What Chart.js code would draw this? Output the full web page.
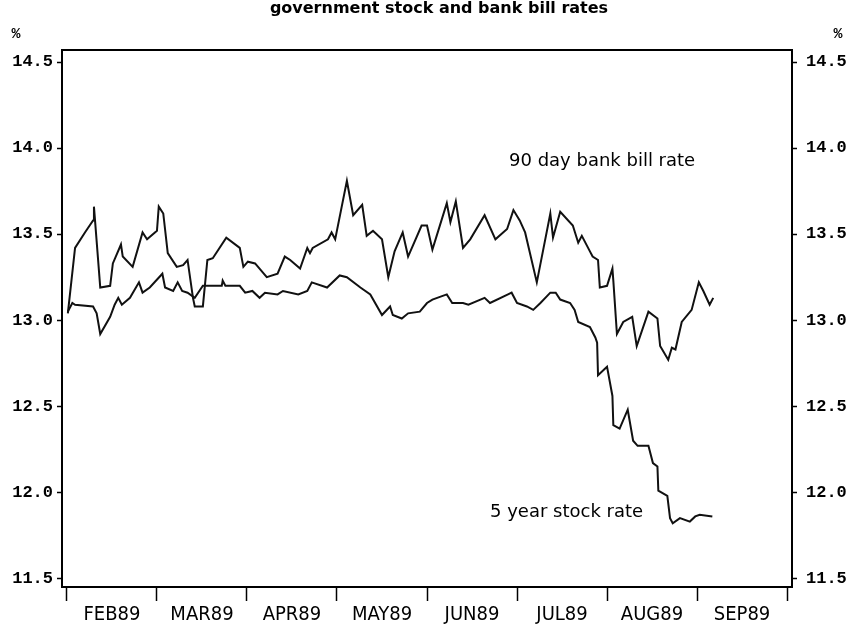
<!DOCTYPE html>
<html>
<head>
<meta charset="utf-8">
<script src="https://cdn.jsdelivr.net/npm/chart.js@4.4.0/dist/chart.umd.min.js"></script>
<style>
  html, body { margin: 0; padding: 0; background: #fff; }
  #rates { display: block; }
</style>
</head>
<body>
<canvas id="rates" width="847" height="628"></canvas>
<script>
// month labels sit between the month-boundary ticks (0 = 1 Feb 1989)
var monthLabels = ['FEB89', 'MAR89', 'APR89', 'MAY89', 'JUN89', 'JUL89', 'AUG89', 'SEP89'];
var yTicks = [11.5, 12.0, 12.5, 13.0, 13.5, 14.0, 14.5];

// 90 day bank bill rate, x in months since 1 Feb
var bankMonths = [0.01, 0.09, 0.20, 0.29, 0.30, 0.37, 0.48, 0.51, 0.60, 0.62, 0.73, 0.84, 0.89, 1.00, 1.02,
    1.07, 1.12, 1.22, 1.29, 1.34, 1.40, 1.42, 1.51, 1.56, 1.62, 1.77, 1.92, 1.96, 2.01, 2.09, 2.22, 2.34,
    2.42, 2.48, 2.59, 2.67, 2.70, 2.73, 2.90, 2.94, 2.98, 3.11, 3.18, 3.28, 3.33, 3.40, 3.50, 3.57, 3.64,
    3.73, 3.79, 3.94, 4.00, 4.06, 4.22, 4.26, 4.32, 4.40, 4.48, 4.64, 4.76, 4.89, 4.96, 5.03, 5.09, 5.22,
    5.37, 5.40, 5.48, 5.62, 5.68, 5.72, 5.81, 5.84, 5.90, 5.92, 6.00, 6.06, 6.07, 6.11, 6.18, 6.28, 6.33,
    6.46, 6.56, 6.59, 6.68, 6.72, 6.76, 6.83, 6.94, 7.02, 7.07, 7.14, 7.18];
var bankRate = [13.04, 13.42, 13.51, 13.58, 13.66, 13.19, 13.20, 13.33, 13.44, 13.37, 13.31, 13.51, 13.47, 13.52, 13.66,
    13.62, 13.39, 13.31, 13.32, 13.35, 13.13, 13.08, 13.08, 13.35, 13.36, 13.48, 13.42, 13.31, 13.34, 13.33, 13.25, 13.27,
    13.37, 13.35, 13.30, 13.42, 13.39, 13.42, 13.47, 13.51, 13.47, 13.81, 13.61, 13.67, 13.49, 13.52, 13.47, 13.25, 13.40,
    13.51, 13.37, 13.55, 13.55, 13.41, 13.68, 13.57, 13.69, 13.42, 13.47, 13.61, 13.47, 13.53, 13.64, 13.58, 13.51, 13.22,
    13.62, 13.48, 13.63, 13.55, 13.45, 13.49, 13.40, 13.37, 13.35, 13.19, 13.20, 13.30, 13.23, 12.92, 12.99, 13.02, 12.85,
    13.05, 13.01, 12.85, 12.77, 12.84, 12.83, 12.99, 13.06, 13.22, 13.17, 13.09, 13.13];

// 5 year government stock rate
var stockMonths = [0.01, 0.06, 0.09, 0.29, 0.33, 0.37, 0.48, 0.53, 0.57, 0.61, 0.70, 0.80, 0.84, 0.92, 1.06,
    1.09, 1.18, 1.23, 1.28, 1.34, 1.42, 1.51, 1.72, 1.73, 1.76, 1.92, 1.98, 2.06, 2.14, 2.20, 2.34, 2.40,
    2.57, 2.67, 2.72, 2.89, 3.03, 3.11, 3.26, 3.37, 3.50, 3.59, 3.62, 3.72, 3.79, 3.92, 4.00, 4.06, 4.22,
    4.28, 4.40, 4.46, 4.64, 4.70, 4.90, 4.94, 5.00, 5.11, 5.18, 5.26, 5.37, 5.43, 5.48, 5.59, 5.64, 5.68,
    5.81, 5.87, 5.89, 5.90, 6.00, 6.06, 6.07, 6.14, 6.23, 6.29, 6.34, 6.46, 6.51, 6.56, 6.57, 6.67, 6.70,
    6.73, 6.81, 6.92, 6.98, 7.03, 7.17];
var stockRate = [13.05, 13.10, 13.09, 13.08, 13.04, 12.92, 13.02, 13.09, 13.13, 13.09, 13.13, 13.22, 13.16, 13.19, 13.27,
    13.19, 13.17, 13.22, 13.17, 13.16, 13.13, 13.20, 13.20, 13.23, 13.20, 13.20, 13.16, 13.17, 13.13, 13.16, 13.15, 13.17,
    13.15, 13.17, 13.22, 13.19, 13.26, 13.25, 13.19, 13.15, 13.03, 13.08, 13.03, 13.01, 13.04, 13.05, 13.10, 13.12, 13.15,
    13.10, 13.10, 13.09, 13.13, 13.10, 13.15, 13.16, 13.10, 13.08, 13.06, 13.10, 13.16, 13.16, 13.12, 13.10, 13.06, 12.99,
    12.96, 12.90, 12.87, 12.68, 12.73, 12.56, 12.39, 12.37, 12.48, 12.30, 12.27, 12.27, 12.17, 12.15, 12.01, 11.98, 11.85,
    11.82, 11.85, 11.83, 11.86, 11.87, 11.86];

function toPoints(xs, ys) {
    return xs.map(function(x, i) { return { x: x, y: ys[i] }; });
}

var frameAndText = {
    id: 'frameAndText',
    afterDraw: function(chart) {
        var c = chart.ctx, a = chart.chartArea;
        c.save();
        c.strokeStyle = '#000';
        c.lineWidth = 2;
        c.strokeRect(a.left, a.top, a.right - a.left, a.bottom - a.top);
        c.fillStyle = '#000';
        c.textAlign = 'center';
        c.textBaseline = 'alphabetic';
        c.font = 'bold 16px "DejaVu Sans"';
        c.fillText('government stock and bank bill rates', 439, 13);
        c.textBaseline = 'middle';
        c.font = 'bold 15px "Liberation Mono"';
        c.fillText('%', 16, 34);
        c.fillText('%', 838, 34);
        c.font = '18px "DejaVu Sans"';
        c.textAlign = 'left';
        c.fillText('90 day bank bill rate', 509, 161);
        c.fillText('5 year stock rate', 490, 512);
        c.restore();
    }
};

var tickFont = { family: '"Liberation Mono", monospace', size: 17, weight: 'bold' };

new Chart(document.getElementById('rates'), {
    type: 'line',
    data: {
        datasets: [{
            label: '90 day bank bill rate',
            data: toPoints(bankMonths, bankRate),
            borderColor: '#111',
            borderWidth: 2,
            pointRadius: 0,
            tension: 0
        }, {
            label: '5 year stock rate',
            data: toPoints(stockMonths, stockRate),
            borderColor: '#111',
            borderWidth: 2,
            pointRadius: 0,
            tension: 0
        }]
    },
    options: {
        responsive: false,
        devicePixelRatio: 1,
        animation: false,
        layout: { padding: { top: 50 } },
        plugins: {
            legend: { display: false },
            tooltip: { enabled: false }
        },
        scales: {
            x: {
                type: 'linear',
                min: -0.055,
                max: 8.055,
                afterBuildTicks: function(axis) {
                    var t = [];
                    for (var i = 0; i <= 16; i++) t.push({ value: i / 2 });
                    axis.ticks = t;
                },
                afterFit: function(axis) { axis.height = 41; },
                border: { display: false },
                grid: {
                    drawOnChartArea: false,
                    tickLength: 14,
                    tickWidth: 1.5,
                    tickColor: function(ctx) {
                        return ctx.tick && ctx.tick.value % 1 === 0 ? '#000' : 'rgba(0,0,0,0)';
                    }
                },
                ticks: {
                    autoSkip: false,
                    maxRotation: 0,
                    padding: 2,
                    color: '#000',
                    font: { family: '"Liberation Sans Narrow", "DejaVu Sans Condensed", sans-serif', size: 20 },
                    callback: function(v) {
                        return v % 1 === 0.5 ? monthLabels[Math.floor(v)] : '';
                    }
                }
            },
            y: {
                position: 'left',
                min: 11.45,
                max: 14.57,
                afterBuildTicks: function(axis) {
                    axis.ticks = yTicks.map(function(v) { return { value: v }; });
                },
                afterFit: function(axis) { axis.width = 62; },
                border: { display: false },
                grid: { drawOnChartArea: false, tickLength: 5, tickColor: '#000', tickWidth: 1.5 },
                ticks: {
                    padding: 4,
                    color: '#000',
                    font: tickFont,
                    callback: function(v) { return v.toFixed(1); }
                }
            },
            y2: {
                position: 'right',
                min: 11.45,
                max: 14.57,
                afterBuildTicks: function(axis) {
                    axis.ticks = yTicks.map(function(v) { return { value: v }; });
                },
                afterFit: function(axis) { axis.width = 55; },
                border: { display: false },
                grid: { drawOnChartArea: false, tickLength: 5, tickColor: '#000', tickWidth: 1.5 },
                ticks: {
                    padding: 9,
                    color: '#000',
                    font: tickFont,
                    callback: function(v) { return v.toFixed(1); }
                }
            }
        }
    },
    plugins: [frameAndText]
});
</script>
</body>
</html>
